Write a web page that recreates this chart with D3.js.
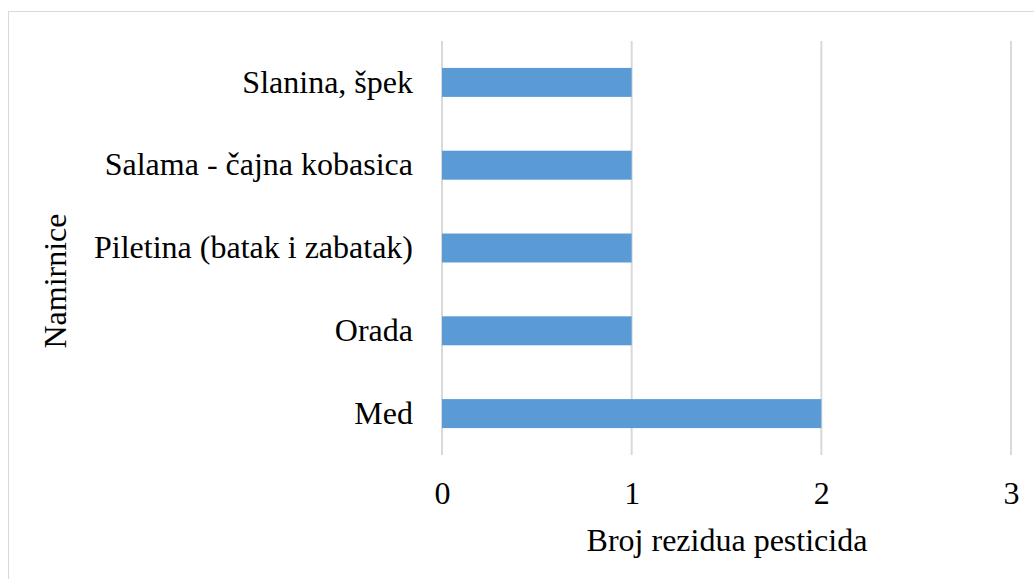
<!DOCTYPE html>
<html>
<head>
<meta charset="utf-8">
<script src="https://cdn.jsdelivr.net/npm/d3@7"></script>
<style>
  body { margin: 0; background: #fff; }
  text { font-family: "Liberation Serif", "Times New Roman", serif; fill: #000; }
</style>
</head>
<body>
<div class="chart"></div>
<script>
// data
var categories = ["Slanina, špek", "Salama - čajna kobasica", "Piletina (batak i zabatak)", "Orada", "Med"];
var values = [1, 1, 1, 1, 2];
var xTicks = [0, 1, 2, 3];

var W = 1034, H = 579;
var margin = {top: 41, right: 23, bottom: 124, left: 442},
    width = W - margin.left - margin.right,
    height = H - margin.top - margin.bottom;

var svg = d3.select(".chart").append("svg")
    .attr("width", W)
    .attr("height", H);

// outer border
svg.append("rect")
    .attr("x", 8.5).attr("y", 11.5)
    .attr("width", W).attr("height", H)
    .attr("fill", "none")
    .attr("stroke", "#d9d9d9")
    .attr("stroke-width", 1);

var g = svg.append("g")
    .attr("transform", "translate(" + margin.left + "," + margin.top + ")");

var x = d3.scaleLinear().domain([0, 3]).range([0, width]);
var y = d3.scaleBand().domain(categories).range([0, height]).paddingInner(0.65).paddingOuter(0.325);

// gridlines
g.selectAll(".grid")
    .data(xTicks)
    .enter().append("line")
    .attr("class", "grid")
    .attr("x1", function(d) { return x(d); })
    .attr("x2", function(d) { return x(d); })
    .attr("y1", 0)
    .attr("y2", height)
    .attr("stroke", "#d9d9d9")
    .attr("stroke-width", 2);

// bars
g.selectAll(".bar")
    .data(values)
    .enter().append("rect")
    .attr("class", "bar")
    .attr("x", x(0))
    .attr("y", function(d, i) { return y(categories[i]); })
    .attr("width", function(d) { return x(d) - x(0); })
    .attr("height", y.bandwidth())
    .attr("fill", "#5b9bd5");

// x axis
var xAxis = g.append("g")
    .attr("transform", "translate(0," + height + ")")
    .call(d3.axisBottom(x).tickValues(xTicks).tickSize(0).tickPadding(26).tickFormat(d3.format("d")));
xAxis.select(".domain").remove();
xAxis.selectAll("text").style("font-size", "32px").style("font-family", "Liberation Serif");

// y axis
var yAxis = g.append("g")
    .call(d3.axisLeft(y).tickSize(0).tickPadding(29));
yAxis.select(".domain").remove();
yAxis.selectAll("text").style("font-size", "32px").style("font-family", "Liberation Serif");

// axis titles
svg.append("text")
    .attr("x", 727)
    .attr("y", 551)
    .attr("text-anchor", "middle")
    .style("font-size", "32px")
    .text("Broj rezidua pesticida");

svg.append("text")
    .attr("transform", "translate(66,281) rotate(-90)")
    .attr("text-anchor", "middle")
    .style("font-size", "32px")
    .text("Namirnice");
</script>
</body>
</html>
